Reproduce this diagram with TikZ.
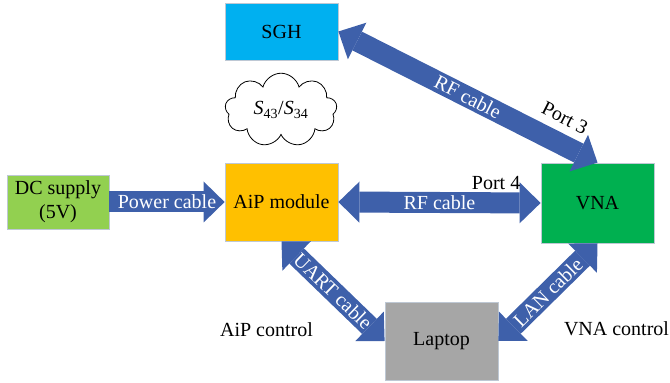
\documentclass[tikz,border=0pt]{standalone}
\usepackage{fontspec}
\setmainfont{Liberation Serif}
\usepackage{xcolor}
\usetikzlibrary{arrows.meta,shapes.symbols}
\definecolor{sghblue}{RGB}{0,176,240}
\definecolor{aipyellow}{RGB}{255,192,0}
\definecolor{dcgreen}{RGB}{146,208,80}
\definecolor{vnagreen}{RGB}{0,176,80}
\definecolor{laptopgray}{RGB}{166,166,166}
\definecolor{boxline}{RGB}{190,200,212}
\definecolor{cableblue}{RGB}{62,96,170}

\begin{document}
\begin{tikzpicture}[x=1pt,y=1pt,font=\fontsize{20}{24}\selectfont,
  >={Triangle[length=21pt,width=41pt,line width=0pt]},
  box/.style={draw=boxline,line width=0.8pt,minimum width=113pt,align=center},
  cable/.style={draw=cableblue,line width=21pt},
  onwire/.style={midway,sloped,text=white,inner sep=0pt},
  port/.style={inner sep=1pt}]
\useasboundingbox (0,0) rectangle (670,383);
\node[box,fill=sghblue,minimum height=57pt] (sgh) at (281.5,351.5) {SGH};
\node[cloud,draw,line width=0.8pt,cloud puffs=9,aspect=1.6,minimum width=112pt,minimum height=70pt] (sparam) at (281,273) {\textit{S}\textsubscript{43}/\textit{S}\textsubscript{34}};
\node[box,fill=aipyellow,minimum height=78pt] (aip) at (281.5,181) {AiP module};
\node[box,fill=dcgreen,minimum width=102pt,minimum height=54pt] (dc) at (58,181) {DC supply\\(5V)};
\node[box,fill=vnagreen,minimum height=80pt] (vna) at (597.5,180) {VNA};
\node[box,fill=laptopgray,minimum height=78pt] (laptop) at (441.5,42) {Laptop};
\node (aipctl) at (266.5,53) {AiP control};
\node (vnactl) at (616.5,54) {VNA control};

\draw[cable,->] (dc.east) -- node[onwire] {Power cable} (aip.west);
\draw[cable,<->] (aip.east) -- node[onwire] {RF cable}
  node[port,pos=0.78,above=2pt] {Port 4} (vna.west);
\draw[cable,<->] (sgh.east) -- node[onwire] {RF cable}
  node[port,pos=0.83,sloped,above=7pt] {Port 3} (vna.north);
\draw[cable,<->] (aip.south) -- node[onwire] {UART cable} (laptop.west);
\draw[cable,<->] (laptop.east) -- node[onwire] {LAN cable} (vna.south);
\end{tikzpicture}
\end{document}
